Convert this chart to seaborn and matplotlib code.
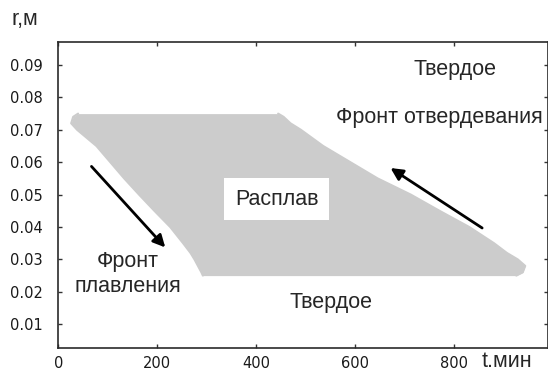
import matplotlib
matplotlib.use("Agg")
import matplotlib.pyplot as plt
import seaborn as sns
import pandas as pd

# radius levels of the melt zone boundary (m)
r_levels = [0.025, 0.026, 0.028, 0.030, 0.032, 0.035, 0.040, 0.045, 0.050,
            0.055, 0.060, 0.065, 0.070, 0.072, 0.074, 0.075]
# time of the melting front at each level (min)
t_melt = [292, 289, 282, 275, 267, 252, 226, 194, 163,
          133, 105, 77, 38, 26, 30, 40]
# time of the solidification front at each level (min)
t_solid = [925, 938, 943, 928, 906, 880, 830, 770, 712,
           645, 590, 535, 490, 469, 455, 444]

x_ticks = [0, 200, 400, 600, 800]
y_ticks = [0.01, 0.02, 0.03, 0.04, 0.05, 0.06, 0.07, 0.08, 0.09]
y_ticklabels = ["0.01", "0.02", "0.03", "0.04", "0.05", "0.06", "0.07", "0.08", "0.09"]

sns.set_style("ticks")
plt.rcParams["font.family"] = ["Liberation Sans", "DejaVu Sans"]

W, H = 548, 372
fig = plt.figure(figsize=(W / 100, H / 100), dpi=100)
ax = fig.add_axes([58.3 / W, 1 - 347.7 / H, (547.5 - 58.3) / W, (347.7 - 42) / H])

df = pd.DataFrame({"r": r_levels, "melt": t_melt, "solid": t_solid})
ax.fill_betweenx(df["r"], df["melt"], df["solid"], color="#cccccc", lw=0)
sns.lineplot(data=df, x="melt", y="r", orient="y", color="#cccccc", lw=1.5, ax=ax)
sns.lineplot(data=df, x="solid", y="r", orient="y", color="#cccccc", lw=1.5, ax=ax)

ax.set_xlim(0, 988)
ax.set_ylim(0.00275, 0.0971)
ax.set_xlabel("")
ax.set_ylabel("")

ax.set_xticks(x_ticks)
ax.set_xticklabels([str(v) for v in x_ticks], fontfamily="DejaVu Sans", fontsize=10.5, color="#1a1a1a")
ax.set_yticks(y_ticks)
ax.set_yticklabels(y_ticklabels, fontfamily="DejaVu Sans", fontsize=10.5, color="#1a1a1a")
ax.tick_params(axis="both", direction="in", length=3, width=1, color="#333333",
               top=True, right=True)
ax.tick_params(axis="y", pad=11)
ax.tick_params(axis="x", pad=6)
for s in ax.spines.values():
    s.set_visible(True)
    s.set_linewidth(1.2)
    s.set_color("#2a2a2a")

fs = 15.5
arrow = dict(arrowstyle="-|>", color="black", lw=2, mutation_scale=18, shrinkA=0, shrinkB=0)
ax.annotate("", xy=(216, 0.0337), xytext=(67, 0.0587), arrowprops=arrow)
ax.annotate("", xy=(671, 0.0582), xytext=(856, 0.0397), arrowprops=arrow)

ax.text(441, 0.0486, "Расплав", fontsize=fs, ha="center", va="center",
        bbox=dict(boxstyle="square,pad=0.5", fc="white", ec="none"))
ax.text(801, 0.0885, "Твердое", fontsize=fs, ha="center", va="center")
ax.text(769, 0.0739, "Фронт отвердевания", fontsize=fs, ha="center", va="center")
ax.text(141, 0.0293, "Фронт", fontsize=fs, ha="center", va="center")
ax.text(141, 0.0216, "плавления", fontsize=fs, ha="center", va="center")
ax.text(551, 0.0168, "Твердое", fontsize=fs, ha="center", va="center")

fig.text(25 / W, 1 - 20 / H, "r,м", fontsize=fs, ha="center", va="center")
fig.text(506.7 / W, 1 - 361.7 / H, "t.мин", fontsize=fs, ha="center", va="center")

fig.savefig("out.png", dpi=100)
